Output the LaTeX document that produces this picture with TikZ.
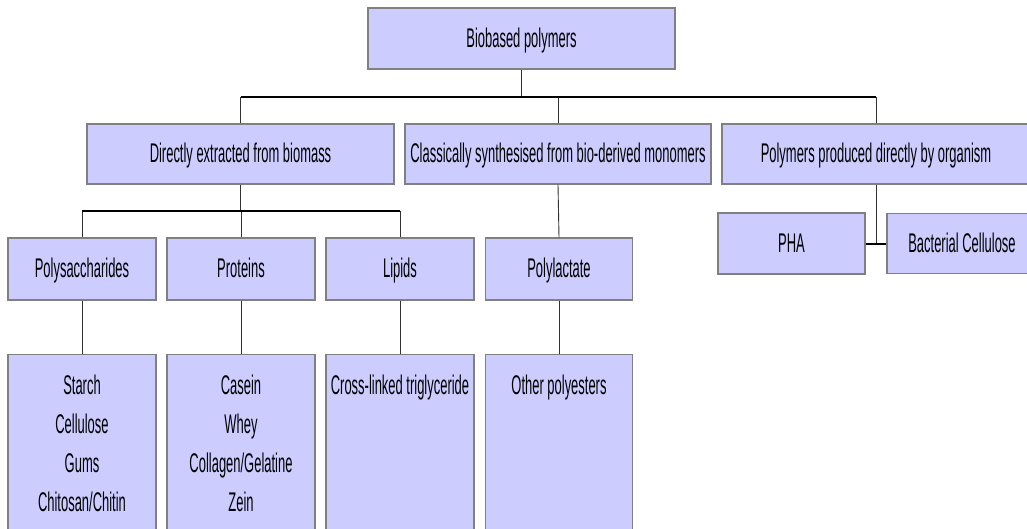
\documentclass[tikz,border=0pt]{standalone}
\usepackage{xcolor}
\usepackage{fontspec}
\setmainfont[FakeStretch=0.48]{Liberation Sans}
\newcommand{\fillcolor}{blue!20!white}
\newcommand{\edgecolor}{black!50!white}
\newcommand{\linkcolor}{black!80!white}
\newcommand{\colw}{148}
\begin{document}
\begin{tikzpicture}[x=1pt, y=-1pt,
    cell/.style={draw=\edgecolor, fill=\fillcolor, line width=1.2pt, inner sep=0pt, font=\fontsize{27}{39}\selectfont},
    box/.style={cell, minimum height=61pt, text height=19.7pt, text depth=2pt},
    tallbox/.style={cell, anchor=north, inner xsep=0pt, inner ysep=20pt},
    stub/.style={draw=\linkcolor, line width=0.9pt},
    bus/.style={draw=black, line width=2pt}]
    \useasboundingbox (0, 0) rectangle (1027, 528);
    \clip (0, 0) rectangle (1027, 528);

    \coordinate (busA) at (0, 97);
    \coordinate (busB) at (0, 211);

    % top and second row
    \node [box, minimum width=307pt] (biobased) at (521.5, 38.5) {Biobased polymers};
    \node [box, minimum width=307pt, minimum height=60pt] (direct) at (240.5, 154) {Directly extracted from biomass};
    \node [box, minimum width=306pt, minimum height=60pt] (synth) at (558, 154) {Classically synthesised from bio-derived monomers};
    \node [box, minimum width=308pt, minimum height=60pt] (organism) at (876, 154) {Polymers produced directly by organism};

    % third row
    \node [box, minimum width=\colw pt, minimum height=62pt] (polysac) at (82, 269) {Polysaccharides};
    \node [box, minimum width=\colw pt, minimum height=62pt] (protein) at (241, 269) {Proteins};
    \node [box, minimum width=\colw pt, minimum height=62pt] (lipid) at (400, 269) {Lipids};
    \node [box, minimum width=147pt, minimum height=62pt] (polylac) at (559, 269) {Polylactate};
    \node [box, minimum width=147pt] (pha) at (791.5, 243.5) {PHA};
    \node [box, minimum width=150pt, minimum height=60pt] (bacterial) at (962, 243.5) {Bacterial Cellulose};

    % bottom row
    \node [tallbox] (polysacList) at (82, 354) {\parbox[t][200pt][t]{\colw pt}{\centering Starch\\Cellulose\\Gums\\Chitosan/Chitin}};
    \node [tallbox] (proteinList) at (241, 354) {\parbox[t][200pt][t]{\colw pt}{\centering Casein\\Whey\\Collagen/Gelatine\\Zein}};
    \node [tallbox] (lipidList) at (400, 354) {\parbox[t][200pt][t]{\colw pt}{\centering Cross-linked triglyceride}};
    \node [tallbox] (polylacList) at (559, 354) {\parbox[t][200pt][t]{147pt}{\centering Other polyesters}};

    % links
    \draw [stub] (biobased.south) -- (biobased.south |- busA);
    \foreach \n in {direct, synth, organism}
        \draw [stub] (\n.north) -- (\n.north |- busA);
    \draw [bus] (direct.north |- busA) -- (organism.north |- busA);

    \draw [stub] (direct.south) -- (direct.south |- busB);
    \foreach \n in {polysac, protein, lipid}
        \draw [stub] (\n.north) -- (\n.north |- busB);
    \draw [bus] (polysac.north |- busB) -- (lipid.north |- busB);

    \draw [stub] (synth.south) -- (polylac.north);
    \foreach \n in {polysac, protein, lipid, polylac}
        \draw [stub] (\n.south) -- (\n List.north);

    \draw [stub] (organism.south) -- (organism.south |- pha.east);
    \draw [bus] (pha.east) -- (bacterial.west);
\end{tikzpicture}
\end{document}
